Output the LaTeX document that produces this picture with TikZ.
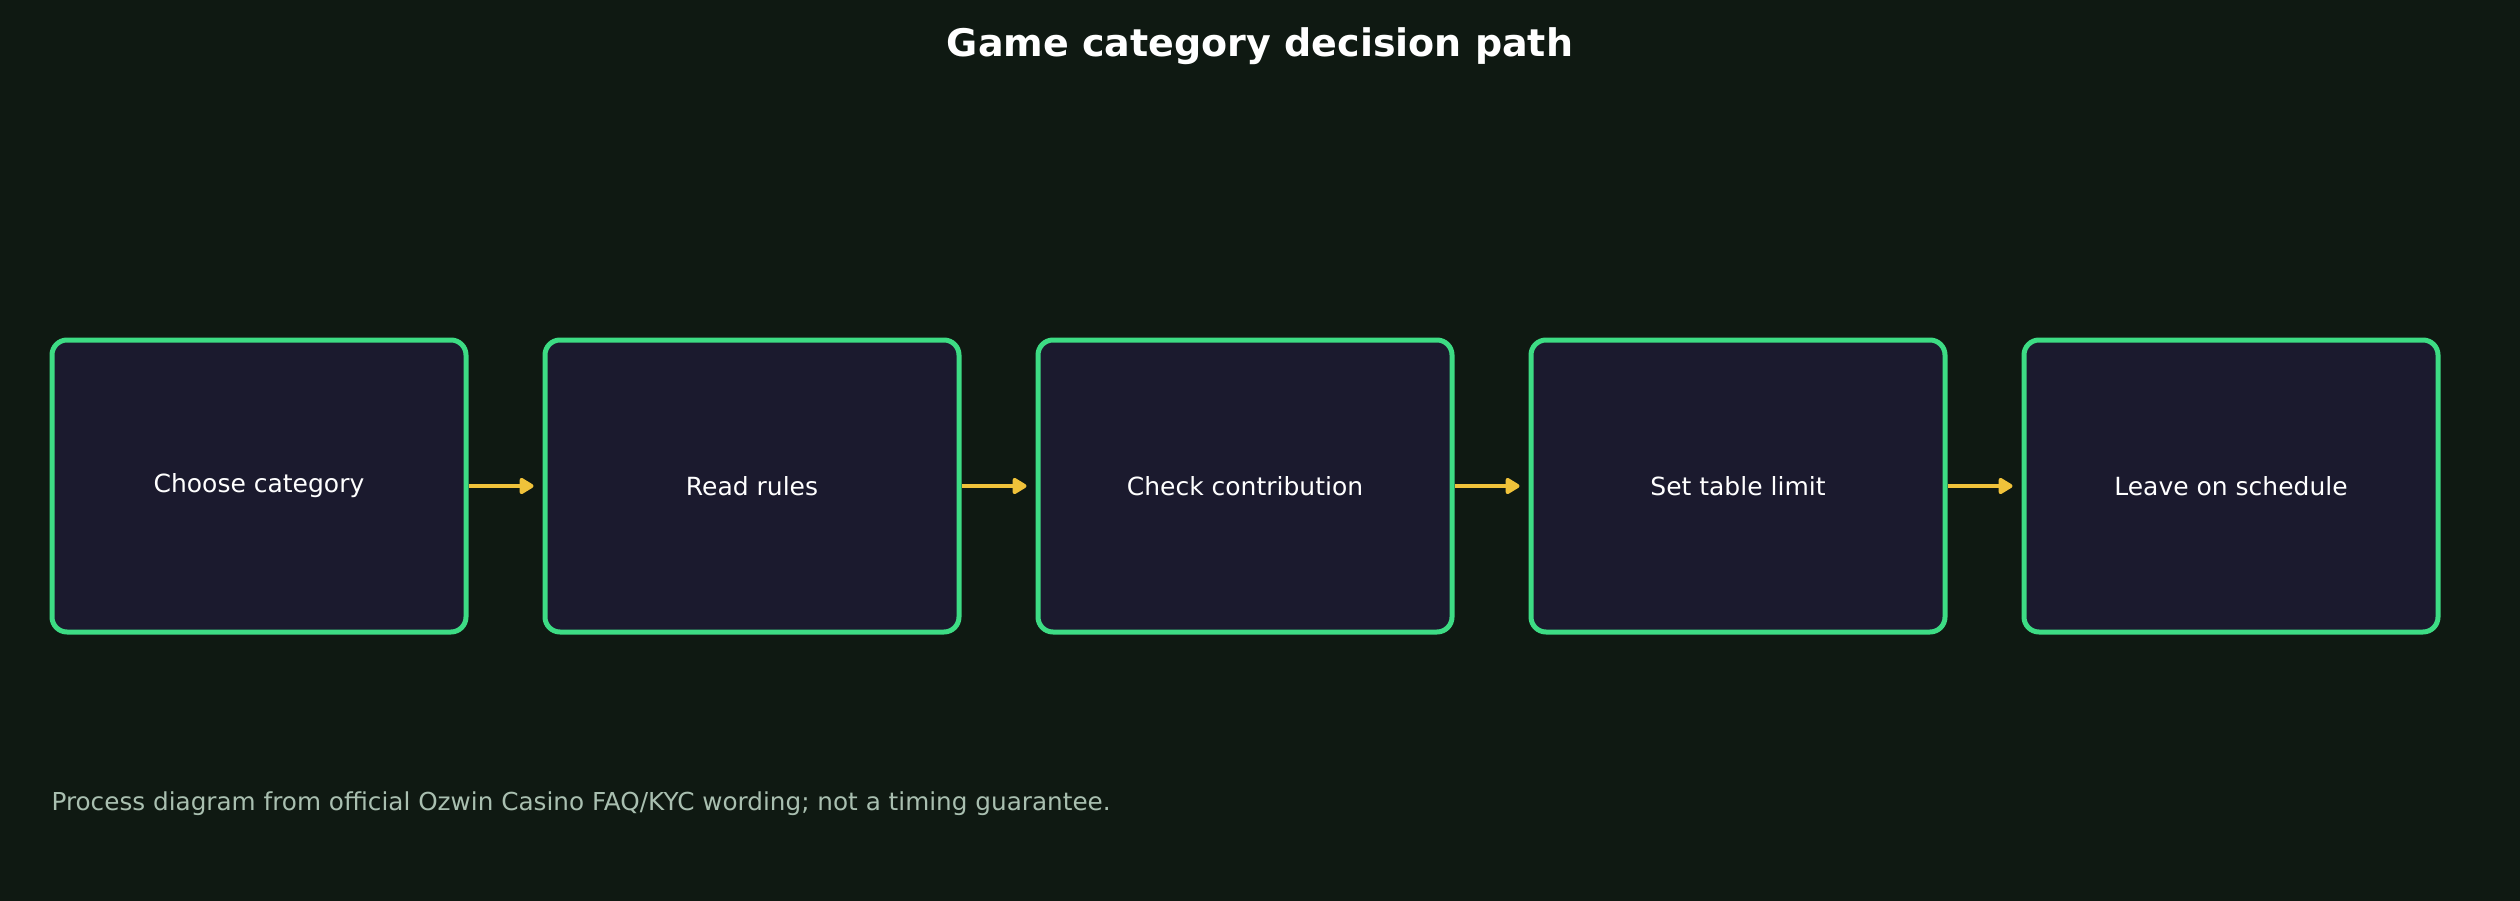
\documentclass[tikz,border=0pt]{standalone}
\usepackage{fontspec}
\setmainfont{DejaVu Sans}
\usetikzlibrary{arrows.meta}
\definecolor{bg}{HTML}{0F1912}
\definecolor{boxfill}{HTML}{1B1A2E}
\definecolor{boxline}{HTML}{3DDC84}
\definecolor{arrowc}{HTML}{F0C23A}
\definecolor{foot}{HTML}{A9BFB0}
\tikzset{
  stepbox/.style={draw=boxline, line width=5pt, fill=boxfill, rounded corners=15pt,
    minimum width=414pt, minimum height=292pt, inner sep=0pt,
    text=white, font=\fontsize{25}{30}\selectfont},
  flow/.style={draw=arrowc, line width=4pt, -{Triangle[length=16pt,width=18pt,round]}, shorten >=9pt}
}
\begin{document}
\begin{tikzpicture}[x=1pt,y=-1pt]
\useasboundingbox (0,0) rectangle (2520,900);
\fill[bg] (-10,-10) rectangle (2530,910);
\node[text=white, font=\bfseries\fontsize{38}{44}\selectfont] (title) at (1260,46) {Game category decision path};
\node[stepbox] (s1) at (259,486) {Choose category};
\node[stepbox] (s2) at (752,486) {Read rules};
\node[stepbox] (s3) at (1245,486) {Check contribution};
\node[stepbox] (s4) at (1738,486) {Set table limit};
\node[stepbox] (s5) at (2231,486) {Leave on schedule};
\draw[flow] (s1.east) -- (s2.west);
\draw[flow] (s2.east) -- (s3.west);
\draw[flow] (s3.east) -- (s4.west);
\draw[flow] (s4.east) -- (s5.west);
\node[anchor=west, text=foot, font=\fontsize{24.7}{30}\selectfont] (note) at (48,804) {Process diagram from official Ozwin Casino FAQ/KYC wording; not a timing guarantee.};
\end{tikzpicture}
\end{document}
